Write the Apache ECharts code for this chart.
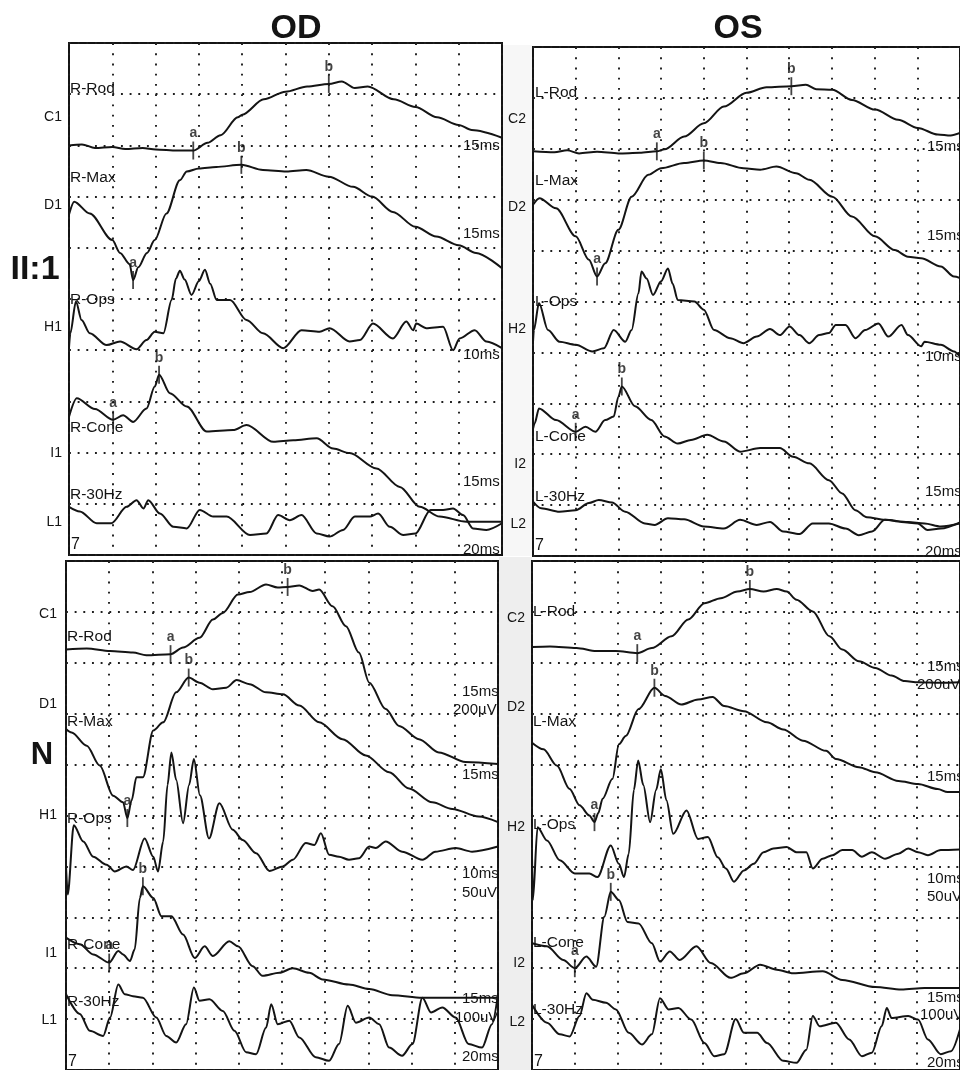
<!DOCTYPE html>
<html><head><meta charset="utf-8">
<script src="https://cdn.jsdelivr.net/npm/echarts@6/dist/echarts.min.js"></script>
<style>html,body{margin:0;padding:0;background:#fff}#c{width:960px;height:1070px}</style>
</head><body><div id="c"></div>
<script>
// ---- Data (x: time divisions 0-10, y: amplitude divisions 0-10) ----
// Panel II:1 OD
const ii_od_rod=[[0,8.0],[0.3,8.02],[0.6,7.95],[1.0,7.97],[1.3,7.93],[1.7,7.95],[2.0,7.92],[2.5,7.9],[2.87,7.9],[3.2,8.05],[3.5,8.2],[3.9,8.55],[4.0,8.6],[4.5,8.9],[5.0,9.05],[5.5,9.15],[6.0,9.2],[6.3,9.25],[6.6,9.12],[6.9,9.15],[7.5,8.9],[8.0,8.75],[8.5,8.55],[9.0,8.4],[9.3,8.3],[10,8.15]];
const ii_od_max=[[0,6.65],[0.12,6.9],[0.48,6.67],[1.0,6.15],[1.18,5.9],[1.4,5.68],[1.48,5.37],[1.6,5.62],[1.8,5.9],[1.98,6.15],[2.25,6.67],[2.56,7.32],[2.72,7.49],[3.0,7.55],[3.4,7.58],[3.98,7.62],[4.48,7.52],[5.02,7.49],[5.48,7.52],[6.0,7.39],[6.56,7.19],[7.0,7.0],[7.48,6.7],[8.0,6.41],[8.48,6.22],[9.0,6.05],[9.4,5.9],[10,5.6]];
const ii_od_ops=[[0,4.05],[0.03,4.33],[0.16,4.95],[0.29,4.59],[0.48,4.33],[0.87,4.1],[1.18,4.17],[1.56,4.02],[1.79,4.2],[1.98,4.36],[2.18,4.33],[2.37,4.98],[2.47,5.4],[2.56,5.55],[2.67,5.38],[2.83,5.08],[3.0,5.35],[3.14,5.57],[3.26,5.3],[3.41,4.98],[3.72,4.98],[4.1,4.59],[4.48,4.33],[4.95,4.04],[5.37,4.39],[5.79,4.36],[6.02,4.43],[6.48,4.17],[6.72,4.2],[7.02,4.52],[7.48,4.23],[7.79,4.56],[7.95,4.39],[8.02,4.52],[8.25,4.43],[8.64,4.46],[8.87,4.0],[9.02,4.23],[9.37,4.39],[9.64,4.17],[10,4.04]];
const ii_od_cone=[[0,2.7],[0.18,3.06],[0.6,2.85],[1.02,2.64],[1.25,2.73],[1.48,2.6],[1.79,2.86],[1.98,3.29],[2.08,3.52],[2.33,3.16],[2.72,2.9],[3.18,2.41],[3.79,2.44],[4.1,2.54],[4.72,2.21],[5.18,2.24],[5.72,2.28],[6.1,2.08],[6.48,1.99],[7.1,1.69],[7.64,1.33],[8.1,0.94],[8.56,0.75],[9.18,0.65],[10,0.65]];
const ii_od_30hz=[[0,0.94],[0.25,0.85],[0.64,0.62],[0.98,0.62],[1.33,0.94],[1.56,1.07],[1.72,0.91],[1.83,1.07],[2.1,0.81],[2.41,0.55],[2.72,0.52],[3.02,0.88],[3.33,0.75],[3.64,0.75],[4.18,0.39],[4.56,0.42],[4.83,0.78],[5.1,0.68],[5.37,0.78],[5.72,0.42],[6.02,0.36],[6.33,0.49],[6.6,0.75],[6.95,0.75],[7.14,0.81],[7.41,0.55],[7.72,0.39],[8.0,0.42],[8.35,0.88],[8.64,0.88],[8.87,0.91],[9.1,0.78],[9.33,0.52],[9.64,0.49],[10,0.62]];
const ii_od_marks=[[2.87,7.9,'a'],[6.0,9.2,'b'],[1.48,5.37,'a'],[3.98,7.62,'b'],[1.02,2.64,'a'],[2.08,3.52,'b']];
// Panel II:1 OS
const ii_os_rod=[[0,7.95],[0.5,7.93],[0.8,7.97],[1.08,7.91],[1.5,7.94],[2.0,7.91],[2.5,7.92],[2.9,7.95],[3.08,7.99],[3.54,8.24],[4.0,8.5],[4.47,8.83],[5.0,9.1],[5.47,9.21],[6.05,9.23],[6.39,9.26],[6.63,9.17],[7.01,9.16],[7.47,8.96],[8.01,8.77],[8.55,8.57],[9.01,8.41],[9.48,8.28],[9.78,8.26],[10,8.31]];
const ii_os_max=[[0,6.9],[0.15,7.03],[0.54,6.83],[1.0,6.28],[1.31,5.82],[1.5,5.49],[1.69,5.75],[2.0,6.41],[2.31,7.06],[2.7,7.49],[3.0,7.62],[3.54,7.72],[4.0,7.77],[4.39,7.72],[4.93,7.62],[5.32,7.59],[5.7,7.65],[6.16,7.52],[6.47,7.39],[7.01,7.06],[7.47,6.67],[8.01,6.28],[8.47,6.01],[8.78,5.88],[9.09,5.85],[9.55,5.69],[9.86,5.49],[10,5.46]];
const ii_os_ops=[[0,4.2],[0.02,4.44],[0.14,4.97],[0.35,4.44],[0.62,4.21],[1.0,4.15],[1.39,4.02],[1.66,4.08],[1.89,4.44],[2.16,4.21],[2.31,4.44],[2.47,5.16],[2.54,5.59],[2.66,5.45],[2.81,5.13],[3.0,5.4],[3.16,5.65],[3.27,5.35],[3.39,5.03],[3.78,5.0],[4.0,4.84],[4.24,4.44],[4.62,4.28],[4.93,4.18],[5.24,4.31],[5.55,4.46],[5.78,4.34],[6.01,4.51],[6.24,4.34],[6.47,4.18],[6.7,4.34],[6.93,4.38],[7.09,4.54],[7.32,4.54],[7.55,4.28],[7.78,4.44],[8.09,4.57],[8.32,4.31],[8.63,4.54],[8.78,4.34],[9.09,4.12],[9.17,4.21],[9.55,4.15],[9.86,4.02],[10,3.92]];
const ii_os_cone=[[0,2.5],[0.04,2.61],[0.14,2.9],[0.54,2.67],[1.0,2.44],[1.23,2.54],[1.46,2.44],[1.69,2.67],[1.89,2.74],[2.0,3.13],[2.08,3.33],[2.39,2.94],[2.77,2.67],[3.08,2.35],[3.39,2.21],[3.7,2.28],[4.08,2.38],[4.47,2.25],[4.85,2.05],[5.32,2.12],[5.78,2.12],[6.09,1.95],[6.47,1.82],[6.93,1.49],[7.24,1.23],[7.55,0.9],[7.82,0.76],[8.24,0.71],[8.78,0.67],[9.17,0.64],[9.55,0.58],[10,0.64]];
const ii_os_30hz=[[0,1.07],[0.19,0.94],[0.62,0.87],[1.0,0.9],[1.31,1.04],[1.54,1.1],[1.85,1.05],[2.16,0.87],[2.62,0.64],[2.85,0.61],[3.16,0.74],[3.54,0.72],[4.0,0.58],[4.47,0.54],[4.85,0.71],[5.24,0.61],[5.55,0.67],[5.86,0.48],[6.24,0.43],[6.55,0.64],[6.93,0.64],[7.32,0.54],[7.63,0.41],[7.94,0.48],[8.24,0.71],[8.63,0.67],[9.01,0.64],[9.24,0.51],[9.55,0.54],[10,0.66]];
const ii_os_marks=[[2.9,7.95,'a'],[6.05,9.23,'b'],[1.5,5.49,'a'],[4.0,7.77,'b'],[1.0,2.44,'a'],[2.08,3.33,'b']];
// Panel N OD
const n_od_rod=[[0,8.26],[0.48,8.28],[1.02,8.23],[1.55,8.2],[1.86,8.15],[2.42,8.17],[2.71,8.3],[3.09,8.49],[3.4,8.85],[3.63,8.98],[3.98,9.34],[4.25,9.39],[4.63,9.54],[4.9,9.48],[5.13,9.49],[5.4,9.52],[5.71,9.41],[5.86,9.44],[6.17,9.11],[6.48,8.72],[6.78,8.2],[7.02,7.61],[7.4,7.09],[7.71,6.76],[8.17,6.5],[8.63,6.24],[9.25,6.05],[10,6.01]];
const n_od_max=[[0,6.7],[0.13,6.63],[0.48,6.37],[0.78,5.98],[1.09,5.39],[1.32,5.26],[1.42,4.95],[1.52,5.3],[1.63,5.75],[1.78,5.75],[2.02,6.67],[2.25,6.83],[2.55,7.42],[2.84,7.71],[3.09,7.61],[3.4,7.48],[3.71,7.51],[3.95,7.66],[4.25,7.58],[4.63,7.42],[5.02,7.38],[5.4,7.16],[5.86,6.83],[6.4,6.5],[6.94,6.18],[7.48,5.85],[7.94,5.53],[8.48,5.26],[8.94,5.13],[9.55,4.98],[10,4.87]];
const n_od_ops=[[0,4.0],[0.04,3.45],[0.18,4.81],[0.4,4.49],[0.63,4.19],[0.94,4.03],[1.13,3.9],[1.4,4.0],[1.55,3.93],[1.82,4.55],[2.02,4.19],[2.13,3.9],[2.25,4.49],[2.35,5.6],[2.44,6.24],[2.55,5.7],[2.71,4.85],[2.85,5.6],[2.96,6.11],[3.1,5.4],[3.31,4.55],[3.55,5.24],[3.86,4.72],[4.09,4.52],[4.4,4.26],[4.71,3.91],[5.02,4.0],[5.25,4.13],[5.55,4.46],[5.75,4.42],[5.9,4.65],[6.09,4.23],[6.32,4.19],[6.55,4.13],[6.78,4.16],[7.02,4.39],[7.17,4.36],[7.4,4.49],[7.78,4.29],[8.25,4.13],[8.55,4.29],[9.02,4.36],[9.4,4.29],[10,4.39]];
const n_od_cone=[[0,2.6],[0.32,2.47],[0.63,2.27],[1.0,2.11],[1.21,2.34],[1.32,2.27],[1.48,2.14],[1.59,2.37],[1.71,3.38],[1.78,3.61],[2.02,3.38],[2.21,3.02],[2.44,3.02],[2.71,2.66],[2.98,2.2],[3.21,2.43],[3.4,2.24],[3.78,2.53],[3.98,2.43],[4.32,2.04],[4.55,1.85],[4.94,1.91],[5.25,2.0],[5.63,1.91],[5.94,1.78],[6.55,1.68],[7.02,1.59],[7.55,1.47],[8.25,1.42],[9.25,1.42],[10,1.42]];
const n_od_30hz=[[0,1.49],[0.32,1.1],[0.55,0.77],[0.86,0.67],[1.02,1.03],[1.21,1.68],[1.36,1.49],[1.55,1.45],[1.78,1.42],[2.09,1.03],[2.32,0.67],[2.55,0.54],[2.78,0.9],[2.96,1.62],[3.09,1.36],[3.32,1.39],[3.63,1.16],[3.9,0.77],[4.17,0.35],[4.4,0.31],[4.63,0.83],[4.75,1.29],[4.9,0.9],[5.17,0.97],[5.4,0.64],[5.78,0.25],[6.09,0.18],[6.32,0.51],[6.52,1.26],[6.71,0.93],[7.02,1.03],[7.25,0.9],[7.48,0.44],[7.78,0.28],[8.02,0.51],[8.25,1.42],[8.45,1.13],[8.71,1.23],[9.02,1.03],[9.32,0.51],[9.63,0.44],[9.86,0.9],[10,1.49]];
const n_od_marks=[[2.42,8.17,'a'],[5.13,9.49,'b'],[1.42,4.95,'a'],[2.84,7.71,'b'],[1.0,2.11,'a'],[1.78,3.61,'b']];
// Panel N OS
const n_os_rod=[[0,8.31],[0.42,8.32],[1.04,8.29],[1.5,8.23],[1.96,8.23],[2.46,8.19],[2.8,8.29],[3.26,8.52],[3.65,8.85],[4.03,9.17],[4.41,9.27],[4.8,9.4],[5.09,9.45],[5.41,9.4],[5.72,9.45],[5.95,9.4],[6.18,9.24],[6.56,9.01],[6.95,8.52],[7.25,8.26],[7.64,8.03],[8.02,7.9],[8.4,7.75],[8.71,7.64],[9.02,7.62],[9.55,7.61],[10,7.62]];
const n_os_max=[[0,6.43],[0.27,6.3],[0.58,5.98],[0.88,5.52],[1.11,5.2],[1.34,5.0],[1.46,4.87],[1.55,5.05],[1.65,5.33],[1.88,5.72],[2.03,6.4],[2.19,6.56],[2.49,7.09],[2.86,7.51],[3.11,7.35],[3.49,7.18],[3.88,7.28],[4.22,7.33],[4.49,7.15],[4.95,7.05],[5.49,6.83],[5.87,6.69],[6.33,6.47],[6.87,6.27],[7.1,6.11],[7.64,5.95],[8.02,5.85],[8.56,5.68],[9.02,5.62],[9.48,5.52],[9.71,5.46],[10,5.46]];
const n_os_ops=[[0,4.2],[0.02,3.34],[0.13,4.77],[0.35,4.51],[0.65,4.12],[1.0,3.86],[1.34,3.86],[1.53,3.79],[1.84,4.41],[2.03,4.05],[2.15,3.79],[2.26,4.25],[2.38,5.5],[2.48,6.08],[2.6,5.6],[2.76,4.87],[2.9,5.5],[3.01,5.91],[3.14,5.3],[3.3,4.64],[3.61,5.1],[3.88,4.54],[4.11,4.58],[4.34,4.18],[4.53,3.96],[4.72,3.7],[4.95,3.92],[5.18,4.05],[5.41,4.28],[5.64,4.35],[5.95,4.38],[6.18,4.28],[6.41,4.28],[6.56,3.96],[6.79,4.15],[7.02,4.22],[7.25,4.32],[7.48,4.32],[7.71,4.19],[7.94,4.28],[8.25,4.15],[8.56,4.25],[8.79,4.35],[9.02,4.28],[9.25,4.22],[9.55,4.32],[10,4.33]];
const n_os_cone=[[0,2.49],[0.35,2.43],[0.73,2.16],[1.0,2.0],[1.27,2.23],[1.5,2.03],[1.69,3.01],[1.84,3.5],[2.03,3.34],[2.23,2.91],[2.49,2.88],[2.8,2.49],[2.99,2.13],[3.22,2.33],[3.45,2.16],[3.84,2.43],[4.18,2.1],[4.64,1.81],[4.95,1.9],[5.33,2.07],[5.72,1.97],[6.1,1.9],[6.79,1.94],[7.25,1.77],[8.02,1.63],[8.63,1.58],[9.17,1.61],[10,1.61]];
const n_os_30hz=[[0,1.28],[0.35,0.93],[0.65,0.7],[0.88,0.66],[1.11,1.06],[1.27,1.51],[1.42,1.38],[1.73,1.32],[1.96,1.19],[2.26,0.73],[2.57,0.5],[2.8,0.7],[2.99,1.41],[3.19,1.19],[3.42,1.22],[3.72,0.99],[4.03,0.53],[4.26,0.27],[4.49,0.31],[4.76,1.0],[4.95,0.73],[5.26,0.73],[5.49,0.53],[5.87,0.18],[6.18,0.14],[6.41,0.4],[6.56,1.06],[6.72,0.86],[7.1,0.93],[7.41,0.6],[7.71,0.27],[7.94,0.34],[8.17,0.86],[8.29,1.22],[8.4,1.02],[8.79,1.06],[9.02,0.99],[9.25,0.6],[9.55,0.31],[9.79,0.37],[10,0.8]];
const n_os_marks=[[2.46,8.19,'a'],[5.09,9.45,'b'],[1.46,4.87,'a'],[2.86,7.51,'b'],[1.0,2.0,'a'],[1.84,3.5,'b']];

// ---- Labels ----
const colTitles=['OD','OS'];
const rowTitles=['II:1','N'];
const chanLabels=[['C1','D1','H1','I1','L1'],['C2','D2','H2','I2','L2'],['C1','D1','H1','I1','L1'],['C2','D2','H2','I2','L2']];
const traceLabels=[['R-Rod','R-Max','R-Ops','R-Cone','R-30Hz'],['L-Rod','L-Max','L-Ops','L-Cone','L-30Hz'],['R-Rod','R-Max','R-Ops','R-Cone','R-30Hz'],['L-Rod','L-Max','L-Ops','L-Cone','L-30Hz']];
const scaleLabelsTop=['15ms','15ms','10ms','15ms','20ms'];
const scaleLabelsN_OD=['15ms','200µV','15ms','10ms','50uV','15ms','100uV','20ms'];
const scaleLabelsN_OS=['15ms','200uV','15ms','10ms','50uV','15ms','100uV','20ms'];

// ---- Layout (positions only) ----
const panels=[
 {grid:{left:69,top:43,width:433,height:512},traces:[ii_od_rod,ii_od_max,ii_od_ops,ii_od_cone,ii_od_30hz],marks:ii_od_marks,
  chanX:62,chanY:[117,205,327,453,522],trX:70,trY:[89,178,300,428,495],scX:[463,463,463,463,463],scY:[146,234,355,482,550],scales:scaleLabelsTop,tri:[71,545]},
 {grid:{left:533,top:47,width:433,height:509},traces:[ii_os_rod,ii_os_max,ii_os_ops,ii_os_cone,ii_os_30hz],marks:ii_os_marks,
  chanX:526,chanY:[119,207,329,464,524],trX:535,trY:[93,181,302,437,497],scX:[927,927,925,925,925],scY:[147,236,357,492,552],scales:scaleLabelsTop,tri:[535,546]},
 {grid:{left:66,top:561,width:432,height:513},traces:[n_od_rod,n_od_max,n_od_ops,n_od_cone,n_od_30hz],marks:n_od_marks,
  chanX:57,chanY:[614,704,815,953,1020],trX:67,trY:[637,722,819,945,1002],scX:[462,453,462,462,462,462,455,462],scY:[692,710,775,874,893,999,1018,1057],scales:scaleLabelsN_OD,tri:[68,1062]},
 {grid:{left:532,top:561,width:435,height:513},traces:[n_os_rod,n_os_max,n_os_ops,n_os_cone,n_os_30hz],marks:n_os_marks,
  chanX:525,chanY:[618,707,827,963,1022],trX:533,trY:[612,722,825,943,1010],scX:[927,917,927,927,927,927,920,927],scY:[667,685,777,879,897,998,1015,1063],scales:scaleLabelsN_OS,tri:[534,1062]}
];

const INK='#141414';
const FONT='"Liberation Sans", Arial, sans-serif';
const grids=[],xAxes=[],yAxes=[],series=[],graphics=[];
graphics.push({type:'rect',shape:{x:503,y:45,width:29,height:511},style:{fill:'#f7f7f7'},z:-10,silent:true});
graphics.push({type:'rect',shape:{x:499,y:557,width:33,height:520},style:{fill:'#eeeeee'},z:-10,silent:true});
panels.forEach((p,i)=>{
  grids.push(Object.assign({show:true,backgroundColor:'#fff',borderColor:INK,borderWidth:2},p.grid));
  xAxes.push({type:'value',gridIndex:i,min:0,max:10,interval:1,axisLine:{show:false},axisTick:{show:false},axisLabel:{show:false},
    splitLine:{show:true,lineStyle:{color:'#1e1e1e',width:1.9,type:[1.9,8.34]}}});
  yAxes.push({type:'value',gridIndex:i,min:0,max:10,interval:1,axisLine:{show:false},axisTick:{show:false},axisLabel:{show:false},
    splitLine:{show:true,lineStyle:{color:'#1e1e1e',width:1.9,type:[1.9,6.76]}}});
  p.traces.forEach((t,k)=>{
    series.push({type:'line',xAxisIndex:i,yAxisIndex:i,data:t,showSymbol:false,smooth:0.3,smoothMonotone:'x',
      lineStyle:{color:INK,width:2},silent:true,z:3,name:traceLabels[i][k]});
  });
  series.push({type:'scatter',xAxisIndex:i,yAxisIndex:i,data:p.marks,symbol:'rect',symbolSize:[1.8,18],
    itemStyle:{color:INK},silent:true,z:4,
    label:{show:true,position:'top',distance:1,formatter:q=>q.value[2],fontFamily:FONT,fontSize:14,fontWeight:'bold',color:INK}});
  chanLabels[i].forEach((s,k)=>graphics.push({type:'text',x:p.chanX,y:p.chanY[k],style:{text:s,font:'14px '+FONT,fill:INK,textAlign:'right',textVerticalAlign:'middle'},z:10}));
  traceLabels[i].forEach((s,k)=>graphics.push({type:'text',x:p.trX,y:p.trY[k],style:{text:s,font:'15.5px '+FONT,fill:INK,textAlign:'left',textVerticalAlign:'middle'},z:10}));
  p.scales.forEach((s,k)=>graphics.push({type:'text',x:p.scX[k],y:p.scY[k],style:{text:s,font:'15px '+FONT,fill:INK,textAlign:'left',textVerticalAlign:'middle'},z:10}));
  graphics.push({type:'text',x:p.tri[0],y:p.tri[1],style:{text:'7',font:'16px '+FONT,fill:INK,textAlign:'left',textVerticalAlign:'middle'},z:10});
});
graphics.push({type:'text',x:296,y:29,style:{text:colTitles[0],font:'bold 34px '+FONT,fill:INK,textAlign:'center',textVerticalAlign:'middle'}});
graphics.push({type:'text',x:738,y:29,style:{text:colTitles[1],font:'bold 34px '+FONT,fill:INK,textAlign:'center',textVerticalAlign:'middle'}});
graphics.push({type:'text',x:35,y:270,style:{text:rowTitles[0],font:'bold 34px '+FONT,fill:INK,textAlign:'center',textVerticalAlign:'middle'}});
graphics.push({type:'text',x:42,y:755,style:{text:rowTitles[1],font:'bold 31px '+FONT,fill:INK,textAlign:'center',textVerticalAlign:'middle'}});

const chart=echarts.init(document.getElementById('c'),null,{renderer:'canvas'});
chart.setOption({animation:false,backgroundColor:'#fff',grid:grids,xAxis:xAxes,yAxis:yAxes,series:series,graphic:graphics});
</script></body></html>
